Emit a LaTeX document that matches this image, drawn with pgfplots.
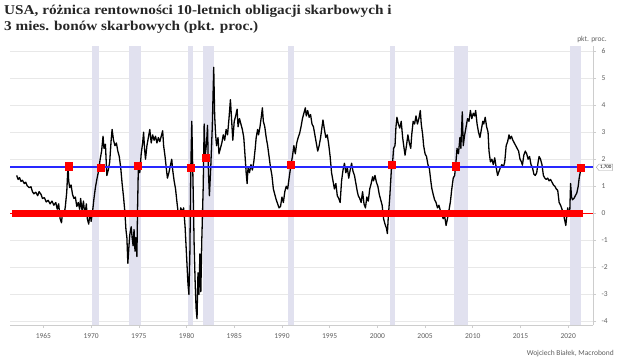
\documentclass[border=0pt]{standalone}
\usepackage{fontspec}
\usepackage{pgfplots}
\usepackage{pgfplotstable}
\pgfplotsset{compat=1.18}
\usetikzlibrary{shapes.symbols}
\setmainfont{Carlito}
\newfontfamily\titlefont{Liberation Serif}[FakeStretch=1.13]
\definecolor{recess}{RGB}{225,225,239}
\definecolor{gridc}{RGB}{232,232,232}
\definecolor{tickc}{RGB}{95,95,95}
\definecolor{axc}{RGB}{205,205,205}
\definecolor{myred}{RGB}{255,0,0}
\definecolor{lineblue}{RGB}{40,40,255}

\pgfplotstableread{
x y
1962.2 1.40
1962.35 1.25
1962.5 1.32
1962.65 1.18
1962.8 1.22
1963.0 1.10
1963.15 1.15
1963.3 1.02
1963.5 0.95
1963.7 0.98
1963.85 0.80
1964.0 0.72
1964.2 0.78
1964.4 0.65
1964.55 0.80
1964.75 0.70
1964.9 0.55
1965.1 0.58
1965.3 0.42
1965.5 0.48
1965.7 0.35
1965.9 0.45
1966.1 0.30
1966.3 0.40
1966.45 0.15
1966.6 0.35
1966.75 -0.20
1966.9 -0.35
1967.0 0.05
1967.15 -0.10
1967.3 0.25
1967.45 0.80
1967.58 1.80
1967.65 1.20
1967.75 0.95
1967.9 1.05
1968.05 0.70
1968.2 0.55
1968.35 0.60
1968.5 0.25
1968.65 0.40
1968.8 0.15
1968.9 0.55
1969.05 0.10
1969.2 0.45
1969.35 -0.10
1969.5 0.35
1969.6 -0.20
1969.75 -0.40
1969.9 0.10
1970.0 -0.30
1970.15 0.05
1970.3 0.55
1970.45 0.95
1970.6 1.25
1970.8 1.60
1970.95 2.00
1971.1 2.30
1971.25 2.85
1971.35 2.40
1971.5 2.55
1971.65 1.40
1971.8 1.60
1971.95 1.90
1972.1 2.70
1972.2 3.10
1972.35 2.70
1972.5 2.50
1972.65 2.60
1972.8 2.30
1972.95 2.10
1973.1 1.70
1973.25 1.10
1973.4 0.60
1973.55 0.00
1973.65 -0.60
1973.75 -0.90
1973.85 -1.85
1973.95 -1.30
1974.05 -0.80
1974.2 -0.50
1974.3 -0.90
1974.4 -1.20
1974.5 -0.60
1974.6 -1.40
1974.7 -0.90
1974.8 -1.60
1974.87 0.20
1974.95 1.70
1975.1 1.50
1975.25 2.20
1975.4 2.60
1975.5 3.00
1975.6 2.40
1975.7 2.00
1975.85 2.50
1976.0 2.80
1976.15 3.10
1976.3 2.60
1976.45 2.90
1976.6 2.70
1976.75 2.85
1976.9 2.60
1977.05 2.80
1977.2 2.65
1977.35 2.85
1977.5 3.05
1977.6 2.50
1977.75 2.10
1977.9 1.60
1978.0 1.30
1978.15 1.50
1978.3 1.75
1978.45 2.00
1978.55 1.60
1978.7 1.20
1978.85 0.90
1979.0 0.40
1979.1 0.10
1979.25 -0.10
1979.4 0.20
1979.55 0.05
1979.7 0.20
1979.85 -0.50
1979.95 -1.20
1980.05 -1.90
1980.15 -2.60
1980.25 -3.00
1980.35 -1.50
1980.45 1.70
1980.55 3.40
1980.62 2.20
1980.7 0.80
1980.8 -1.20
1980.9 -2.50
1981.0 -3.50
1981.1 -3.90
1981.2 -2.20
1981.3 -3.00
1981.4 -1.50
1981.5 -2.90
1981.6 -1.00
1981.75 1.00
1981.85 3.30
1981.95 2.10
1982.1 2.60
1982.2 3.25
1982.3 1.50
1982.4 0.65
1982.55 1.80
1982.7 3.20
1982.85 5.40
1982.95 3.60
1983.05 2.90
1983.15 2.50
1983.3 2.80
1983.4 2.20
1983.55 2.40
1983.7 2.60
1983.85 2.90
1984.0 2.70
1984.15 3.10
1984.3 2.90
1984.45 3.50
1984.6 4.20
1984.7 3.60
1984.85 2.70
1985.0 3.40
1985.15 3.60
1985.3 3.85
1985.4 3.20
1985.55 3.50
1985.7 3.30
1985.85 3.10
1986.0 2.80
1986.1 2.30
1986.25 1.50
1986.35 1.10
1986.45 1.70
1986.6 1.50
1986.75 1.80
1986.9 1.60
1987.05 1.90
1987.2 2.40
1987.3 2.80
1987.45 3.10
1987.55 2.90
1987.7 3.20
1987.85 3.60
1987.95 3.90
1988.05 3.40
1988.2 3.20
1988.35 2.80
1988.5 2.50
1988.65 2.10
1988.8 1.70
1988.95 1.40
1989.1 0.90
1989.25 0.70
1989.4 0.50
1989.55 0.35
1989.7 0.20
1989.85 0.25
1990.0 0.60
1990.15 0.40
1990.3 0.80
1990.45 1.00
1990.6 0.90
1990.75 1.30
1990.95 1.80
1991.1 2.10
1991.25 2.50
1991.4 2.20
1991.55 2.60
1991.7 2.80
1991.85 2.95
1992.0 3.20
1992.15 3.50
1992.3 3.70
1992.45 3.90
1992.55 3.60
1992.7 3.80
1992.85 3.55
1993.0 3.65
1993.15 3.30
1993.3 3.20
1993.45 2.90
1993.6 2.60
1993.75 2.30
1993.9 2.50
1994.05 2.80
1994.2 3.20
1994.3 3.45
1994.45 3.10
1994.6 2.80
1994.75 2.90
1994.9 2.55
1995.05 2.10
1995.2 1.50
1995.35 1.20
1995.5 0.90
1995.65 1.10
1995.8 0.65
1995.95 0.55
1996.1 0.40
1996.25 1.20
1996.4 1.60
1996.55 1.85
1996.7 1.50
1996.85 1.70
1997.0 1.30
1997.15 1.60
1997.3 1.85
1997.45 1.55
1997.6 1.40
1997.75 1.10
1997.9 0.80
1998.0 0.65
1998.15 0.55
1998.3 0.40
1998.45 0.80
1998.6 0.35
1998.75 0.20
1998.9 0.60
1999.05 0.45
1999.2 0.90
1999.35 1.10
1999.5 1.35
1999.6 1.20
1999.75 1.40
1999.9 1.15
2000.05 1.00
2000.2 0.70
2000.35 0.50
2000.5 0.30
2000.65 -0.20
2000.8 -0.40
2000.95 -0.55
2001.05 -0.75
2001.15 -0.10
2001.3 0.60
2001.5 1.80
2001.6 1.90
2001.7 2.40
2001.85 2.50
2001.95 3.20
2002.05 3.55
2002.2 3.30
2002.35 3.15
2002.5 3.40
2002.65 2.80
2002.8 2.40
2002.9 2.15
2003.05 2.50
2003.2 2.90
2003.35 2.60
2003.5 2.40
2003.6 2.90
2003.75 3.40
2003.9 3.30
2004.05 3.60
2004.2 3.30
2004.35 3.50
2004.5 3.80
2004.6 3.30
2004.75 2.90
2004.85 2.50
2005.0 2.20
2005.15 2.10
2005.3 1.80
2005.45 1.65
2005.6 1.20
2005.7 0.93
2005.85 0.70
2006.0 0.50
2006.15 0.40
2006.3 0.20
2006.45 0.30
2006.6 0.10
2006.75 -0.07
2006.9 -0.20
2007.05 -0.10
2007.2 -0.45
2007.35 -0.20
2007.5 0.10
2007.65 0.42
2007.8 0.90
2007.95 1.30
2008.1 1.40
2008.2 1.74
2008.35 2.40
2008.5 2.20
2008.65 2.80
2008.75 2.40
2008.9 3.75
2009.0 2.50
2009.15 2.90
2009.3 3.20
2009.45 3.50
2009.6 3.40
2009.75 3.80
2009.9 3.50
2010.05 3.70
2010.2 3.60
2010.3 3.80
2010.45 3.30
2010.6 3.00
2010.75 2.80
2010.9 3.10
2011.05 3.40
2011.15 3.30
2011.3 3.55
2011.45 3.20
2011.6 3.00
2011.7 2.30
2011.85 1.90
2012.0 2.00
2012.15 1.80
2012.3 2.05
2012.45 1.70
2012.6 1.40
2012.75 1.55
2012.9 1.70
2013.05 1.80
2013.2 1.70
2013.35 1.90
2013.5 2.50
2013.65 2.65
2013.8 2.90
2013.9 2.75
2014.05 2.85
2014.2 2.70
2014.35 2.60
2014.5 2.50
2014.65 2.40
2014.8 2.30
2014.95 2.00
2015.1 1.90
2015.2 1.78
2015.35 2.15
2015.5 2.30
2015.65 2.20
2015.8 2.00
2015.95 2.10
2016.1 1.80
2016.25 1.70
2016.4 1.45
2016.55 1.40
2016.7 1.50
2016.85 1.90
2016.95 2.10
2017.1 2.00
2017.25 1.80
2017.4 1.40
2017.55 1.30
2017.7 1.25
2017.85 1.30
2018.0 1.20
2018.15 1.25
2018.3 1.15
2018.45 1.05
2018.6 1.00
2018.75 0.90
2018.9 0.85
2019.05 0.40
2019.2 0.30
2019.35 0.15
2019.5 0.00
2019.6 -0.20
2019.75 -0.45
2019.85 -0.10
2019.95 0.20
2020.05 0.00
2020.15 -0.10
2020.25 1.10
2020.35 0.60
2020.45 0.50
2020.6 0.55
2020.75 0.65
2020.9 0.75
2021.05 1.00
2021.15 1.30
2021.35 1.69
}\spread

\pgfplotstableread{
x y
1967.62 1.74
1971.0 1.70
1974.92 1.75
1980.45 1.70
1982.0 2.05
1990.95 1.79
2001.5 1.80
2008.2 1.74
2021.35 1.69
}\marks

\pgfplotstableread{
x y
1961.5 1.7
2022.6 1.7
}\bluelevel

\begin{document}
\begin{tikzpicture}[x=1pt,y=1pt]
\useasboundingbox (0,0) rectangle (620,362);
\begin{axis}[
  at={(10pt,37pt)}, anchor=south west,
  scale only axis, width=583pt, height=279.4pt,
  xmin=1961.5, xmax=2022.6, ymin=-4.13, ymax=6.2,
  clip=false,
  axis x line*=bottom, axis y line*=right,
  axis line style={draw=axc, line width=0.6pt},
  xtick={1965,1970,...,2020}, ytick={-4,-3,...,6},
  tick align=outside, major tick length=3pt,
  tick style={draw=axc, line width=0.6pt},
  ymajorgrids, grid style={draw=gridc, line width=0.6pt},
  ticklabel style={font=\fontsize{7.5}{8}\selectfont, text=tickc},
  xticklabel style={yshift=-2pt},
  yticklabel style={xshift=2pt},
  /pgf/number format/assume math mode=true,
  /pgf/number format/set thousands separator={},
]
\addplot[fill=recess, draw=none] coordinates {(1970.1,-4.13) (1970.87,-4.13) (1970.87,6.2) (1970.1,6.2)} --cycle;
\addplot[fill=recess, draw=none] coordinates {(1973.95,-4.13) (1975.25,-4.13) (1975.25,6.2) (1973.95,6.2)} --cycle;
\addplot[fill=recess, draw=none] coordinates {(1980.15,-4.13) (1980.65,-4.13) (1980.65,6.2) (1980.15,6.2)} --cycle;
\addplot[fill=recess, draw=none] coordinates {(1981.7,-4.13) (1982.9,-4.13) (1982.9,6.2) (1981.7,6.2)} --cycle;
\addplot[fill=recess, draw=none] coordinates {(1990.63,-4.13) (1991.3,-4.13) (1991.3,6.2) (1990.63,6.2)} --cycle;
\addplot[fill=recess, draw=none] coordinates {(2001.35,-4.13) (2001.88,-4.13) (2001.88,6.2) (2001.35,6.2)} --cycle;
\addplot[fill=recess, draw=none] coordinates {(2008.06,-4.13) (2009.45,-4.13) (2009.45,6.2) (2008.06,6.2)} --cycle;
\addplot[fill=recess, draw=none] coordinates {(2020.2,-4.13) (2021.37,-4.13) (2021.37,6.2) (2020.2,6.2)} --cycle;
\addplot[draw=black, line width=1.3pt, line join=round] table {\spread};
\addplot[draw=myred, line width=0.8pt] coordinates {(1961.5,0) (2022.6,0)};
\addplot[draw=myred, line width=7pt] coordinates {(1961.7,0) (2021.6,0)};
\addplot[color=lineblue, draw=lineblue, line width=2pt, mark=none] table {\bluelevel};
\addplot[only marks, mark=square*, mark size=3.6pt, draw=myred, fill=myred] table {\marks};
\node[signal, signal to=west, signal pointer angle=100, draw=gray!70, fill=white, line width=0.4pt,
  inner sep=1.2pt, font=\fontsize{5}{5}\selectfont, anchor=west] at (axis cs:2022.6,1.7) [xshift=3pt] {1,700};
\end{axis}
\node[anchor=base, font=\fontsize{7.5}{8}\selectfont, text=tickc] at (592,320) {pkt. proc.};
\node[anchor=base east, font=\fontsize{7.5}{8}\selectfont, text=tickc, inner sep=0pt] at (614,7) {Wojciech Białek, Macrobond};
\node[anchor=base west, inner sep=0pt, font=\titlefont\bfseries\fontsize{13.5}{16}\selectfont, text=black!85]
  at (4,347) {USA, różnica rentowności 10-letnich obligacji skarbowych i};
\node[anchor=base west, inner sep=0pt, font=\titlefont\bfseries\fontsize{13.5}{16}\selectfont, text=black!85]
  at (4,331) {3 mies. bonów skarbowych (pkt. proc.)};
\end{tikzpicture}
\end{document}
